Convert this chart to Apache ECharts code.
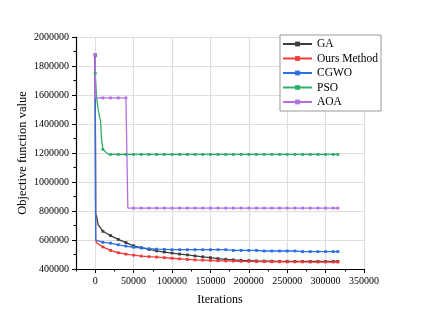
<!DOCTYPE html>
<html>
<head>
<meta charset="utf-8">
<script src="https://cdn.jsdelivr.net/npm/echarts@6/dist/echarts.min.js"></script>
<style>
  html, body { margin: 0; padding: 0; background: #fff; }
  #chart { width: 423px; height: 324px; }
</style>
</head>
<body>
<div id="chart"></div>
<script>
// iterations / objective values
var gaX = [0, 500, 1700, 3900, 10000, 20000, 30000, 40000, 50000, 60000, 70000, 80000, 90000, 100000, 110000, 120000, 130000, 140000, 150000, 160000, 170000, 180000, 190000, 200000, 210000, 220000, 230000, 240000, 250000, 260000, 270000, 280000, 290000, 300000, 310000, 316000];
var gaY = [1870000, 780000, 765000, 705000, 660000, 630000, 604000, 582000, 560000, 547000, 535000, 525000, 517000, 510000, 503000, 497000, 490000, 484000, 478000, 472000, 467000, 463000, 460000, 458000, 456000, 455000, 454000, 453000, 453000, 452000, 452000, 452000, 452000, 452000, 452000, 452000];

var oursX = [0, 600, 2000, 10000, 20000, 30000, 40000, 50000, 60000, 70000, 80000, 90000, 100000, 110000, 120000, 130000, 140000, 150000, 160000, 170000, 180000, 190000, 200000, 210000, 220000, 230000, 240000, 250000, 260000, 270000, 280000, 290000, 300000, 310000, 316000];
var oursY = [1880000, 600000, 580000, 552000, 528000, 512000, 502000, 495000, 489000, 485000, 482000, 478000, 474000, 470000, 466000, 463000, 461000, 459000, 457000, 456000, 455000, 453000, 452000, 451000, 451000, 450000, 450000, 449000, 449000, 449000, 448000, 448000, 448000, 448000, 448000];

var cgwoX = [0, 700, 2000, 10000, 20000, 30000, 40000, 50000, 60000, 70000, 80000, 90000, 100000, 110000, 120000, 130000, 140000, 150000, 160000, 170000, 180000, 190000, 200000, 210000, 220000, 230000, 240000, 250000, 260000, 270000, 280000, 290000, 300000, 310000, 316000];
var cgwoY = [1880000, 600000, 590000, 584000, 578000, 567000, 558000, 550000, 545000, 540000, 537000, 535000, 533000, 533000, 533000, 533000, 533000, 533000, 533000, 533000, 528000, 528000, 528000, 528000, 524000, 524000, 524000, 524000, 524000, 520000, 520000, 520000, 520000, 520000, 520000];

var psoX = [0, 1800, 3900, 6000, 7000, 8300, 10000, 13000, 17000, 20000, 30000, 40000, 50000, 60000, 70000, 80000, 90000, 100000, 110000, 120000, 130000, 140000, 150000, 160000, 170000, 180000, 190000, 200000, 210000, 220000, 230000, 240000, 250000, 260000, 270000, 280000, 290000, 300000, 310000, 316000];
var psoY = [1750000, 1580000, 1500000, 1440000, 1420000, 1290000, 1225000, 1210000, 1192000, 1190000, 1190000, 1190000, 1190000, 1190000, 1190000, 1190000, 1190000, 1190000, 1190000, 1190000, 1190000, 1190000, 1190000, 1190000, 1190000, 1190000, 1190000, 1190000, 1190000, 1190000, 1190000, 1190000, 1190000, 1190000, 1190000, 1190000, 1190000, 1190000, 1190000, 1190000];

var aoaX = [0, 500, 10000, 20000, 30000, 40000, 42500, 42500, 50000, 60000, 70000, 80000, 90000, 100000, 110000, 120000, 130000, 140000, 150000, 160000, 170000, 180000, 190000, 200000, 210000, 220000, 230000, 240000, 250000, 260000, 270000, 280000, 290000, 300000, 310000, 316000];
var aoaY = [1880000, 1580000, 1580000, 1580000, 1580000, 1580000, 1580000, 820000, 820000, 820000, 820000, 820000, 820000, 820000, 820000, 820000, 820000, 820000, 820000, 820000, 820000, 820000, 820000, 820000, 820000, 820000, 820000, 820000, 820000, 820000, 820000, 820000, 820000, 820000, 820000, 820000];

var xTickLabels = [0, 50000, 100000, 150000, 200000, 250000, 300000, 350000];

var names = ['GA', 'Ours Method', 'CGWO', 'PSO', 'AOA'];
var colors = ['#3d3d3d', '#f23a3a', '#2a6fe3', '#30ad6b', '#b36fe2'];

var FONT = 'Liberation Serif';

// markers only every 10000 iterations (and at the ends)
function toData(xs, ys) {
  return xs.map(function (x, i) {
    var mark = x % 10000 === 0 || i === xs.length - 1;
    return mark ? [x, ys[i]] : { value: [x, ys[i]], symbol: 'none' };
  });
}

function makeSeries(name, xs, ys, color, z) {
  return {
    name: name,
    type: 'line',
    z: z,
    data: toData(xs, ys),
    symbol: 'rect',
    symbolSize: 2.8,
    lineStyle: { width: 1.3, color: color },
    itemStyle: { color: color },
    emphasis: { disabled: true },
    animation: false
  };
}

var myChart = echarts.init(document.getElementById('chart'));
myChart.setOption({
  color: colors,
  textStyle: { fontFamily: FONT },
  grid: { left: 76, right: 59, top: 37, bottom: 55 },
  legend: {
    orient: 'vertical',
    left: 280,
    top: 35,
    data: names,
    itemWidth: 29,
    itemHeight: 6,
    itemGap: 2.5,
    padding: [3, 3, 3, 2],
    borderColor: '#999',
    borderWidth: 1,
    backgroundColor: '#fff',
    textStyle: { fontFamily: FONT, fontSize: 11.5, color: '#000' }
  },
  xAxis: [
    {
      type: 'value',
      min: -25000,
      max: 350000,
      interval: 25000,
      name: 'Iterations',
      nameLocation: 'middle',
      nameGap: 25,
      nameMoveOverlap: false,
      nameTextStyle: { fontFamily: FONT, fontSize: 12, color: '#000' },
      axisLine: { onZero: false, lineStyle: { color: '#000', width: 1.2 } },
      axisTick: { customValues: xTickLabels, length: 4, lineStyle: { color: '#000' } },
      axisLabel: {
        customValues: xTickLabels,
        formatter: function (v) { return String(v); },
        fontFamily: FONT, fontSize: 10, color: '#000', margin: 7
      },
      splitLine: { show: true, lineStyle: { color: '#dedede', width: 1.2 } }
    },
    {
      // minor ticks every 25000
      type: 'value',
      position: 'bottom',
      min: -25000,
      max: 350000,
      interval: 25000,
      axisLine: { show: false, onZero: false },
      axisTick: { length: 2.5, lineStyle: { color: '#000' } },
      axisLabel: { show: false },
      splitLine: { show: false }
    }
  ],
  yAxis: {
    type: 'value',
    min: 400000,
    max: 2000000,
    interval: 200000,
    name: 'Objective function value',
    nameLocation: 'middle',
    nameGap: 47,
    nameMoveOverlap: false,
    nameTextStyle: { fontFamily: FONT, fontSize: 12.5, color: '#000' },
    axisLine: { show: true, onZero: false, lineStyle: { color: '#000', width: 1.2 } },
    axisTick: { show: true, length: 4, lineStyle: { color: '#000' } },
    minorTick: { show: true, splitNumber: 2, length: 2.5, lineStyle: { color: '#000' } },
    axisLabel: {
      formatter: function (v) { return String(v); },
      fontFamily: FONT, fontSize: 10, color: '#000', margin: 7
    },
    splitLine: { show: true, lineStyle: { color: '#dedede', width: 1.2 } }
  },
  series: [
    makeSeries(names[0], gaX, gaY, colors[0], 2),
    makeSeries(names[1], oursX, oursY, colors[1], 2),
    makeSeries(names[2], cgwoX, cgwoY, colors[2], 3),
    makeSeries(names[3], psoX, psoY, colors[3], 4),
    makeSeries(names[4], aoaX, aoaY, colors[4], 4)
  ]
});
</script>
</body>
</html>
